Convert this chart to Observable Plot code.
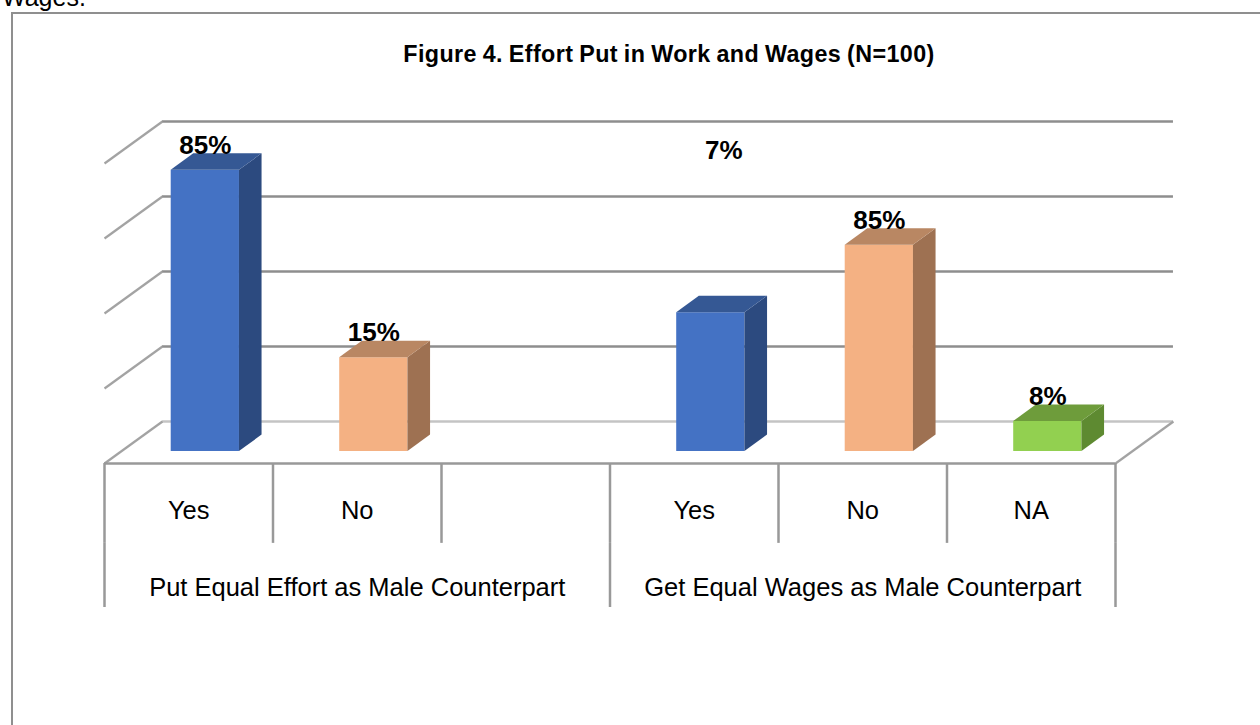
<!DOCTYPE html>
<html>
<head>
<meta charset="utf-8">
<script src="https://cdn.jsdelivr.net/npm/d3@7"></script>
<script src="https://cdn.jsdelivr.net/npm/@observablehq/plot@0.6"></script>
<style>
html, body { margin: 0; padding: 0; background: #fff; width: 1260px; height: 725px; overflow: hidden; position: relative; font-family: "Liberation Sans", Arial, sans-serif; }
#chart { position: absolute; left: 0; top: 0; }
#frame { position: absolute; left: 11px; top: 12px; width: 1300px; height: 800px; border-left: 2.5px solid #8f8f8f; border-top: 2.5px solid #8f8f8f; box-sizing: border-box; pointer-events: none; }
#title { position: absolute; left: 0; width: 1338px; top: 42px; line-height: 24px; text-align: center; font-weight: bold; font-size: 23.3px; letter-spacing: 0.4px; word-spacing: -1px; color: #000; white-space: nowrap; }
#lead { position: absolute; left: 2px; top: -15px; font-size: 25px; line-height: 25px; color: #000; white-space: nowrap; }
</style>
</head>
<body>
<div id="lead">Wages.</div>
<div id="chart"></div>
<div id="frame"></div>
<div id="title">Figure 4. Effort Put in Work and Wages (N=100)</div>
<script>
// ---- data ----
const groups = ["Put Equal Effort as Male Counterpart", "Get Equal Wages as Male Counterpart"];
const categories = ["Yes", "No", "", "Yes", "No", "NA"];          // one per slot along the floor
const categoryGroup = [0, 0, 0, 1, 1, 1];
const values = [75, 25, null, 37, 55, 8];
const valueLabels = ["85%", "15%", "", "7%", "85%", "8%"];         // data labels as printed
const gridValues = [0, 20, 40, 60, 80];

// ---- styling ----
const palette = {
  Yes: {front: "#4472C4", top: "#355894", side: "#2C4A7F"},
  No:  {front: "#F4B183", top: "#B98763", side: "#9E7152"},
  NA:  {front: "#92D050", top: "#6E9C3B", side: "#5E8A31"}
};
const DX = 0.344, DY = 11.2;   // 3-D depth offset (x in slots, y in value units)
const D0 = 0.286, D1 = 0.676;  // bar front/back depth fractions
const BW = 0.405;              // bar width in slots
const nSlots = categories.length;

const bars = categories.map((c, i) => ({slot: i, cat: c, v: values[i], label: valueLabels[i]}))
  .filter(d => d.v != null);

const xl = d => d.slot + 0.5 - BW / 2;
const xr = d => d.slot + 0.5 + BW / 2;

const sidePts = bars.flatMap(d => [
  {slot: d.slot, cat: d.cat, x: xr(d) + D0 * DX, y1: D0 * DY, y2: d.v + D0 * DY},
  {slot: d.slot, cat: d.cat, x: xr(d) + D1 * DX, y1: D1 * DY, y2: d.v + D1 * DY}
]);
const topPts = bars.flatMap(d => {
  const a = d.v + D0 * DY, b = d.v + D1 * DY;
  return [
    {slot: d.slot, cat: d.cat, x: xl(d) + D0 * DX, y1: a, y2: a},
    {slot: d.slot, cat: d.cat, x: xl(d) + D1 * DX, y1: a, y2: b},
    {slot: d.slot, cat: d.cat, x: xr(d) + D0 * DX, y1: a, y2: b},
    {slot: d.slot, cat: d.cat, x: xr(d) + D1 * DX, y1: b, y2: b}
  ];
});

const slotEdges = d3.range(nSlots + 1);
const groupEdges = [0, nSlots / 2, nSlots];
const groupCenters = groups.map((g, i) => ({g, x: (i + 0.5) * nSlots / 2}));
const catRows = categories.map((c, i) => ({c, x: i + 0.5}));

const ROW1 = -14.9, ROW1END = -21.3, ROW2 = -35.2, ROW2END = -38.4;

const font = "'Liberation Sans', Arial, sans-serif";

const plot = Plot.plot({
  width: 1260,
  height: 725,
  margin: 0,
  x: {type: "linear", domain: [0, nSlots], range: [104, 1115], axis: null},
  y: {type: "linear", domain: [0, 100], range: [463, 88], axis: null},
  color: {type: "identity"},
  style: {background: "transparent", overflow: "visible"},
  marks: [
    // back wall gridlines
    Plot.ruleY(gridValues, {y: v => v + DY, x1: DX, x2: nSlots + DX,
      stroke: v => v === 0 ? "#c4c4c4" : "#8e8e8e", strokeWidth: 2.5}),
    // side wall diagonals
    Plot.link(gridValues, {x1: 0, y1: v => v, x2: DX, y2: v => v + DY,
      stroke: "#a3a3a3", strokeWidth: 2.2}),
    // floor front and right edges
    Plot.ruleY([0], {y: 0, x1: 0, x2: nSlots, stroke: "#999", strokeWidth: 2.5}),
    Plot.link([0], {x1: nSlots, y1: 0, x2: nSlots + DX, y2: DY, stroke: "#a3a3a3", strokeWidth: 2.2}),
    // bars: front, side, top faces
    Plot.rect(bars, {
      x1: d => xl(d) + D0 * DX, x2: d => xr(d) + D0 * DX,
      y1: d => D0 * DY, y2: d => d.v + D0 * DY,
      fill: d => palette[d.cat].front
    }),
    Plot.area(sidePts, {x1: "x", y1: "y1", y2: "y2", z: "slot", curve: "linear",
      fill: d => palette[d.cat].side}),
    Plot.area(topPts, {x1: "x", y1: "y1", y2: "y2", z: "slot", curve: "linear",
      fill: d => palette[d.cat].top}),
    // data labels
    Plot.text(bars.filter(d => d.slot !== 3), {
      x: d => d.slot + 0.5 + D0 * DX, y: d => d.v + D1 * DY, text: "label",
      lineAnchor: "bottom", fontSize: 26, fontWeight: "bold", fontFamily: font, fill: "#000"
    }),
    Plot.text(bars.filter(d => d.slot === 3), {
      x: d => d.slot + 0.5 + D0 * DX, y: d => d.v + D1 * DY, text: "label",
      dx: 13, dy: -137,
      lineAnchor: "bottom", fontSize: 26, fontWeight: "bold", fontFamily: font, fill: "#000"
    }),
    // category table
    Plot.ruleX(slotEdges, {x: d => d, y1: 0, y2: ROW1END, stroke: "#999", strokeWidth: 2.5}),
    Plot.ruleX(groupEdges, {x: d => d, y1: ROW1END, y2: ROW2END, stroke: "#999", strokeWidth: 2.5}),
    Plot.text(catRows, {x: "x", y: ROW1, text: "c", lineAnchor: "bottom",
      fontSize: 25.5, fontFamily: font, fill: "#000"}),
    Plot.text(groupCenters, {x: "x", y: ROW2, text: "g", lineAnchor: "bottom",
      fontSize: 25.5, fontFamily: font, fill: "#000"})
  ]
});
document.getElementById("chart").appendChild(plot);
</script>
</body>
</html>
